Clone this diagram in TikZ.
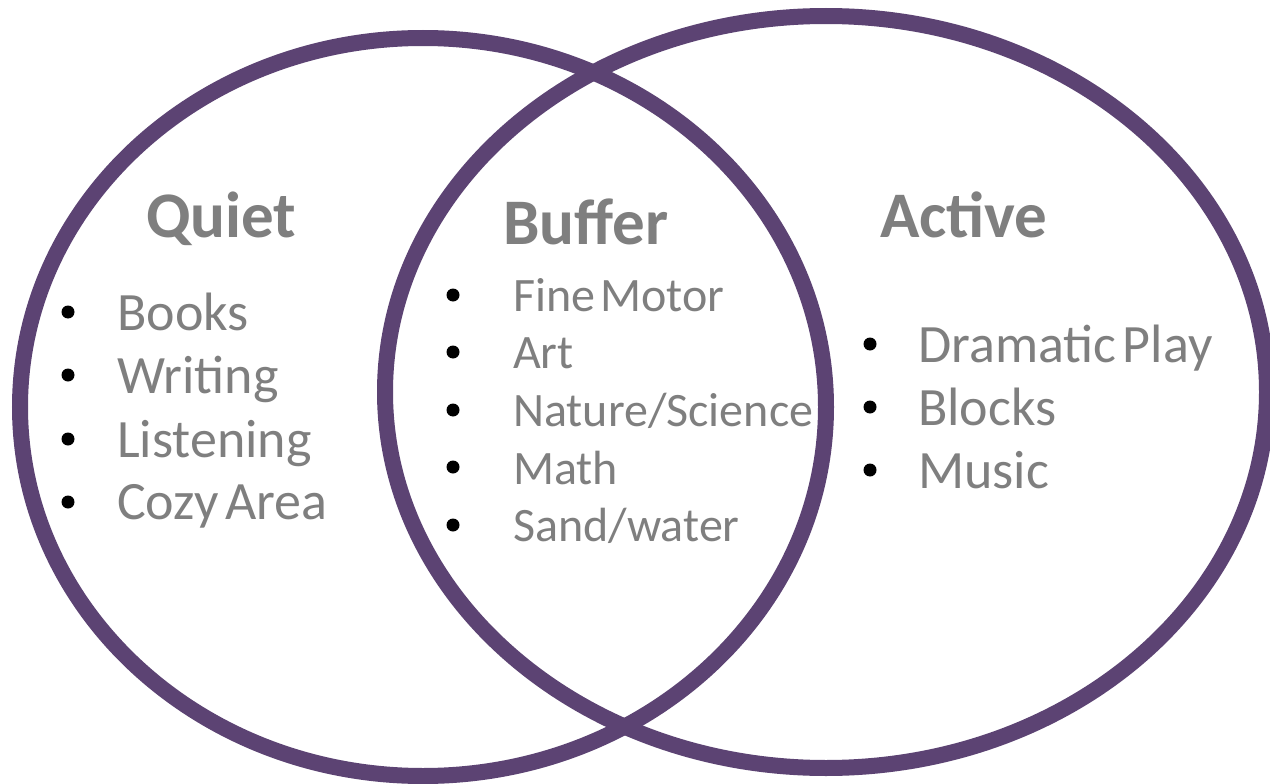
\documentclass[tikz,border=0pt]{standalone}
\usepackage{fontspec}
\setmainfont{Carlito}
\definecolor{ringpurple}{HTML}{5C4373}
\definecolor{labelgray}{HTML}{7F7F7F}
\begin{document}
\begin{tikzpicture}[x=1pt,y=-1pt,
  ring/.style={draw=ringpurple,line width=16pt},
  heading/.style={anchor=base west,inner sep=0pt,text=labelgray,font=\fontsize{65}{65}\selectfont\bfseries},
  itemA/.style={anchor=base west,inner sep=0pt,text=labelgray,font=\fontsize{54}{54}\selectfont},
  itemB/.style={anchor=base west,inner sep=0pt,text=labelgray,font=\fontsize{48}{48}\selectfont},
  dot/.style={circle,fill=black,inner sep=0pt,minimum size=13pt}]
\useasboundingbox (0,0) rectangle (1270,784);
\fill[white] (0,0) rectangle (1270,784);

% the two overlapping rings
\draw[ring] (423,407) ellipse [x radius=403, y radius=369];
\draw[ring] (826,392) ellipse [x radius=441, y radius=376];

% headings
\node[heading] (quiet) at (146,237) {Quiet};
\node[heading] (buffer) at (503,244) {Buffer};
\node[heading] (active) at (880,237) {Active};

% quiet list
\node[itemA] (q1) at (117,330) {Books};
\node[itemA] (q2) at (117,393) {Writing};
\node[itemA] (q3) at (117,457) {Listening};
\node[itemA] (q4) at (117,519) {Cozy\hspace{0.12em}Area};
\foreach \y/\n in {312/1,375/2,439/3,502/4}
  \node[dot] (qd\n) at (68,\y) {};

% buffer list
\node[itemB] (b1) at (513,311) {Fine\hspace{0.1em}Motor};
\node[itemB] (b2) at (513,368) {Art};
\node[itemB] (b3) at (513,426) {Nature/Science};
\node[itemB] (b4) at (513,484) {Math};
\node[itemB] (b5) at (513,541) {Sand/water};
\foreach \y/\n in {295/1,352/2,410/3,467/4,525/5}
  \node[dot] (bd\n) at (453,\y) {};

% active list
\node[itemA] (a1) at (918,362) {Dramatic\hspace{0.12em}Play};
\node[itemA] (a2) at (918,425) {Blocks};
\node[itemA] (a3) at (918,488) {Music};
\foreach \y/\n in {344/1,407/2,470/3}
  \node[dot] (ad\n) at (870,\y) {};
\end{tikzpicture}
\end{document}
